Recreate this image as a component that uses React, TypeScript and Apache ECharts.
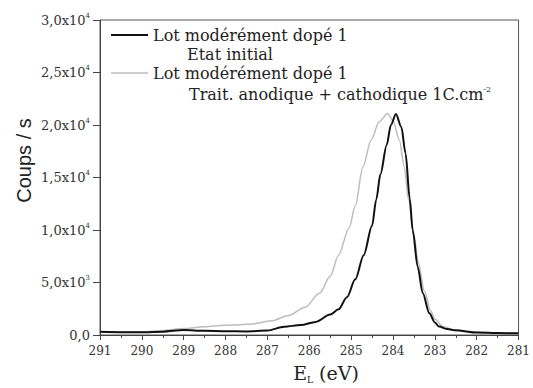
import React, { useEffect, useRef } from "react";
import * as echarts from "echarts";

// Binding energy (eV) and counts/s — "Etat initial"
const initialEnergy = [291, 290.5, 290, 289.5, 289, 288.5, 288, 287.5, 287, 286.6, 286.2, 285.85, 285.5, 285.3, 285.1, 284.9, 284.7, 284.5, 284.4, 284.3, 284.15, 284.05, 283.93, 283.8, 283.7, 283.6, 283.53, 283.41, 283.29, 283.13, 283.0, 282.9, 282.7, 282.5, 282.0, 281.5, 281];
const initialCounts = [300, 270, 260, 320, 480, 400, 360, 340, 420, 790, 950, 1250, 1950, 2450, 3600, 5300, 7600, 10400, 12900, 15300, 18100, 20000, 21050, 19800, 17300, 13000, 10000, 6500, 4000, 2060, 1200, 800, 560, 450, 230, 180, 160];

// "Trait. anodique + cathodique 1C.cm-2"
const treatedEnergy = [291, 290.5, 290, 289.5, 289, 288.5, 288.2, 287.8, 287.4, 286.9, 286.5, 286.1, 285.75, 285.5, 285.3, 285.05, 284.9, 284.72, 284.52, 284.33, 284.13, 284.0, 283.85, 283.73, 283.63, 283.5, 283.4, 283.25, 283.1, 283.0, 282.8, 282.5, 282.0, 281.5, 281];
const treatedCounts = [280, 280, 300, 420, 620, 780, 890, 950, 1050, 1350, 1850, 2650, 4000, 5600, 7600, 10200, 12300, 16000, 18600, 20300, 21100, 20400, 18600, 16000, 12900, 9500, 7000, 4200, 2300, 1500, 800, 420, 280, 200, 160];

const seriesNames = ["Etat initial", "Trait. anodique + cathodique 1C.cm-2"];
const legendTitle = "Lot modérément dopé 1";

// y tick labels: [mantissa, exponent]
const yTickLabels: [string, string][] = [
  ["0,0", ""],
  ["5,0x10", "3"],
  ["1,0x10", "4"],
  ["1,5x10", "4"],
  ["2,0x10", "4"],
  ["2,5x10", "4"],
  ["3,0x10", "4"],
];
const xTicks = [291, 290, 289, 288, 287, 286, 285, 284, 283, 282, 281];

const SERIF = "'DejaVu Serif', serif";
const SANS = "'Liberation Sans', Arial, sans-serif";

export default function App() {
  const ref = useRef<HTMLDivElement>(null);
  useEffect(() => {
    if (!ref.current) return;
    const chart = echarts.init(ref.current, undefined, { renderer: "svg" });
    const initialData = initialEnergy.map((e, i) => [e, initialCounts[i]]);
    const treatedData = treatedEnergy.map((e, i) => [e, treatedCounts[i]]);
    chart.setOption({
      animation: false,
      backgroundColor: "#ffffff",
      grid: {
        left: 100,
        right: 13.5,
        top: 20,
        bottom: 53,
        show: true,
        borderColor: "#555",
        borderWidth: 1,
        backgroundColor: "transparent",
      },
      legend: {
        orient: "vertical",
        left: 111,
        top: 26.5,
        padding: 0,
        itemWidth: 37,
        itemHeight: 14,
        itemGap: 21,
        symbolKeepAspect: true,
        data: [
          { name: seriesNames[0], icon: "path://M0,0H37V2H0Z" },
          { name: seriesNames[1], icon: "path://M0,0H37V1.5H0Z" },
        ],
        formatter: () => legendTitle,
        textStyle: { fontFamily: SERIF, fontSize: 16, lineHeight: 17, color: "#222" },
        selectedMode: false,
      },
      xAxis: {
        type: "value",
        min: 281,
        max: 291,
        interval: 1,
        inverse: true,
        axisLine: { show: true, lineStyle: { color: "#444", width: 1 } },
        axisTick: { show: true, length: 5, lineStyle: { color: "#444" } },
        minorTick: { show: true, splitNumber: 2, length: 3, lineStyle: { color: "#444" } },
        splitLine: { show: false },
        axisLabel: {
          margin: 10,
          fontFamily: SERIF,
          fontSize: 12,
          color: "#333",
          formatter: (v: number) => (xTicks.includes(v) ? String(v) : ""),
        },
      },
      yAxis: {
        type: "value",
        min: 0,
        max: 30000,
        interval: 5000,
        axisLine: { show: true, lineStyle: { color: "#444", width: 1 } },
        axisTick: { show: true, length: 7, lineStyle: { color: "#444" } },
        splitLine: { show: false },
        axisLabel: {
          margin: 10,
          color: "#333",
          formatter: (v: number) => {
            const t = yTickLabels[Math.round(v / 5000)];
            if (!t) return "";
            return t[1] ? `{n|${t[0]}}{s|${t[1]}}` : `{n|${t[0]}}`;
          },
          rich: {
            n: { fontFamily: SERIF, fontSize: 13, color: "#333", lineHeight: 16 },
            s: { fontFamily: SERIF, fontSize: 7, color: "#333", verticalAlign: "top", lineHeight: 10 },
          },
        },
      },
      series: [
        {
          name: seriesNames[0],
          type: "line",
          data: initialData,
          showSymbol: false,
          symbol: "none",
          smooth: 0.3,
          smoothMonotone: "x",
          z: 3,
          lineStyle: { color: "#111", width: 2 },
          itemStyle: { color: "#111" },
        },
        {
          name: seriesNames[1],
          type: "line",
          data: treatedData,
          showSymbol: false,
          symbol: "none",
          smooth: 0.3,
          smoothMonotone: "x",
          z: 2,
          lineStyle: { color: "#bdbdbd", width: 1.5 },
          itemStyle: { color: "#bdbdbd" },
        },
      ],
      graphic: [
        {
          type: "text",
          x: 187,
          y: 54,
          style: {
            text: "{n|Etat initial}",
            textVerticalAlign: "middle",
            rich: { n: { fontFamily: SERIF, fontSize: 16, fill: "#222", lineHeight: 17 } },
          },
        },
        {
          type: "text",
          x: 189,
          y: 94,
          style: {
            text: "{n|Trait. anodique + cathodique 1C.cm}{s|-2}",
            textVerticalAlign: "middle",
            rich: {
              n: { fontFamily: SERIF, fontSize: 16, fill: "#222", lineHeight: 17 },
              s: { fontFamily: SERIF, fontSize: 8, fill: "#222", verticalAlign: "top", lineHeight: 10 },
            },
          },
        },
        {
          type: "text",
          x: 326,
          y: 373,
          style: {
            text: "{n|E}{s|L}{n| (eV)}",
            textAlign: "center",
            textVerticalAlign: "middle",
            rich: {
              n: { fontFamily: SERIF, fontSize: 19, fill: "#222", lineHeight: 22 },
              s: { fontFamily: SERIF, fontSize: 9, fill: "#222", verticalAlign: "bottom", lineHeight: 18 },
            },
          },
        },
        {
          type: "text",
          x: 24,
          y: 160.5,
          rotation: Math.PI / 2,
          style: {
            text: "Coups / s",
            font: `20px ${SANS}`,
            fill: "#222",
            textAlign: "center",
            textVerticalAlign: "middle",
          },
        },
      ],
    });
    return () => chart.dispose();
  }, []);
  return (
    <div
      ref={ref}
      style={{ position: "fixed", left: 0, top: 0, width: 533, height: 388, background: "#fff" }}
    />
  );
}
